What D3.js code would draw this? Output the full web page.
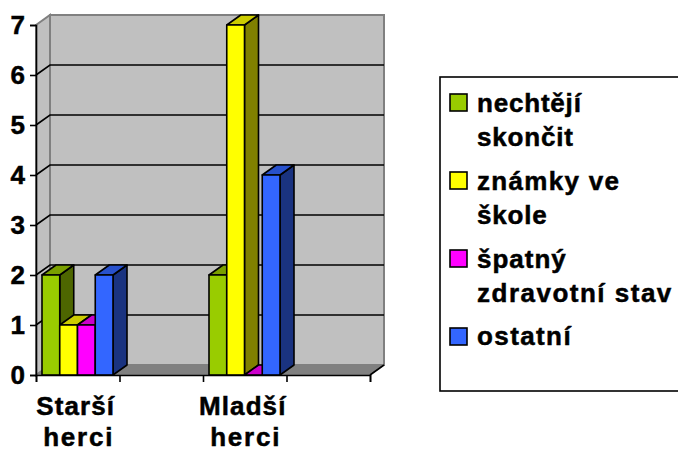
<!DOCTYPE html>
<html>
<head>
<meta charset="utf-8">
<script src="https://cdn.jsdelivr.net/npm/d3@7"></script>
<style>
  html, body { margin: 0; padding: 0; background: #fff; }
  svg { display: block; }
  text { font-family: "Liberation Sans", Arial, sans-serif; font-weight: bold; fill: #000; stroke: #000; stroke-width: 0.5px; }
</style>
</head>
<body>
<div id="chart"></div>
<script>
// two of the four categories are empty in the original chart
const categories = ['Starší herci', 'blank1', 'Mladší herci', 'blank2'];
const categoryLines = {'Starší herci': ['Starší', 'herci'], 'Mladší herci': ['Mladší', 'herci']};
const seriesNames = ['nechtějí skončit', 'známky ve škole', 'špatný zdravotní stav', 'ostatní'];
const legendLines = [['nechtějí', 'skončit'], ['známky ve', 'škole'], ['špatný', 'zdravotní stav'], ['ostatní']];
const nechteji = [2, null, 2, null];
const znamky = [1, null, 7, null];
const spatny = [1, null, 0, null];
const ostatni = [2, null, 4, null];
const yTicks = [0, 1, 2, 3, 4, 5, 6, 7];

const frontColors = ['#99cc00', '#ffff00', '#ff00ff', '#3366ff'];
const topColors = ['#7a9f00', '#cccc00', '#cc00cc', '#2851cc'];
const sideColors = ['#4d6600', '#808000', '#800080', '#1a3380'];

const seriesValues = [nechteji, znamky, spatny, ostatni];

const chartWidth = 678, chartHeight = 451;
const depthX = 14, depthY = 10;
const plotLeft = 36, plotRight = 370, plotTop = 25, plotBottom = 375;

const svg = d3.select('#chart').append('svg')
    .attr('width', chartWidth)
    .attr('height', chartHeight);

const xScale = d3.scaleBand().domain(categories).range([plotLeft, plotRight]);
const yScale = d3.scaleLinear().domain([0, 7]).range([plotBottom, plotTop]);
const barScale = d3.scaleBand().domain(seriesNames).range([6, 77]);

// walls and floor
const poly = pts => 'M' + pts.map(p => p.join(',')).join('L') + 'Z';
svg.append('path')
    .attr('d', poly([[plotLeft, plotTop], [plotLeft + depthX, plotTop - depthY], [plotLeft + depthX, plotBottom - depthY], [plotLeft, plotBottom]]))
    .attr('fill', '#c0c0c0').attr('stroke', '#808080').attr('stroke-width', 2);
svg.append('path')
    .attr('d', poly([[plotLeft + depthX, plotTop - depthY], [plotRight + depthX, plotTop - depthY], [plotRight + depthX, plotBottom - depthY], [plotLeft + depthX, plotBottom - depthY]]))
    .attr('fill', '#c0c0c0').attr('stroke', '#808080').attr('stroke-width', 2);
svg.append('path')
    .attr('d', poly([[plotLeft, plotBottom], [plotLeft + depthX, plotBottom - depthY], [plotRight + depthX, plotBottom - depthY], [plotRight, plotBottom]]))
    .attr('fill', '#808080').attr('stroke', '#808080');

// gridlines
yTicks.filter(d => d > 0 && d < 7).forEach(d => {
  svg.append('path')
      .attr('d', `M${plotLeft},${yScale(d)}L${plotLeft + depthX},${yScale(d) - depthY}H${plotRight + depthX}`)
      .attr('fill', 'none')
      .attr('stroke', '#000')
      .attr('stroke-width', 1.6);
});
svg.append('line')
    .attr('x1', plotRight).attr('y1', plotBottom)
    .attr('x2', plotRight + depthX).attr('y2', plotBottom - depthY)
    .attr('stroke', '#000').attr('stroke-width', 1.6);

// bars, drawn series by series so later bars cover the sides of earlier ones
categories.forEach((cat, i) => {
  seriesNames.forEach((name, s) => {
    const v = seriesValues[s][i];
    if (v === null) return;
    const x0 = xScale(cat) + barScale(name);
    const x1 = x0 + barScale.bandwidth();
    const y = yScale(v);
    const g = svg.append('g')
        .attr('stroke', '#000')
        .attr('stroke-width', 1.6)
        .attr('stroke-linejoin', 'round');
    g.append('path')
        .attr('d', poly([[x1, y], [x1 + depthX, y - depthY], [x1 + depthX, plotBottom - depthY], [x1, plotBottom]]))
        .attr('fill', sideColors[s]);
    g.append('path')
        .attr('d', poly([[x0, y], [x0 + depthX, y - depthY], [x1 + depthX, y - depthY], [x1, y]]))
        .attr('fill', topColors[s]);
    g.append('rect')
        .attr('x', x0).attr('y', y)
        .attr('width', x1 - x0).attr('height', plotBottom - y)
        .attr('fill', frontColors[s]);
  });
});

// axes
const yAxis = d3.axisLeft(yScale).tickValues(yTicks).tickSize(6).tickPadding(5).tickFormat(d3.format('d'));
const yG = svg.append('g').attr('transform', `translate(${plotLeft},0)`).call(yAxis);
yG.selectAll('text').style('font-size', '26px');

const xTickValues = [plotLeft, ...categories.map(c => xScale(c) + xScale.bandwidth())];
const xAxisScale = d3.scaleLinear().domain([plotLeft, plotRight]).range([plotLeft, plotRight]);
const xAxis = d3.axisBottom(xAxisScale).tickValues(xTickValues).tickSize(7).tickFormat('');
svg.append('g').attr('transform', `translate(0,${plotBottom})`).call(xAxis);
svg.selectAll('.domain, .tick line').attr('stroke', '#000').attr('stroke-width', 1.6);

// category labels, the two lines are not quite centred on each other in the original
const labelBaselines = [415, 446];
const labelOffsets = [-2, 1];
const labelSpacing = [1.1, 1.8];
categories.filter(c => categoryLines[c]).forEach(c => {
  categoryLines[c].forEach((line, i) => {
    svg.append('text')
        .attr('x', xScale(c) + xScale.bandwidth() / 2 + labelOffsets[i])
        .attr('y', labelBaselines[i])
        .attr('text-anchor', 'middle')
        .style('font-size', '26px')
        .style('letter-spacing', labelSpacing[i] + 'px')
        .text(line);
  });
});

// legend
svg.append('rect')
    .attr('x', 440).attr('y', 77)
    .attr('width', 250).attr('height', 314)
    .attr('fill', '#fff').attr('stroke', '#000').attr('stroke-width', 1.6);

const legendSwatchY = [94, 172, 250, 328];
const legendBaselines = [[112, 146], [190, 224], [268, 302], [345]];
const legendSpacing = [[0.8, 0.8], [1.3, 0.8], [1, 1.5], [1.4]];
legendLines.forEach((lines, s) => {
  svg.append('rect')
      .attr('x', 450).attr('y', legendSwatchY[s])
      .attr('width', 17).attr('height', 17)
      .attr('fill', frontColors[s])
      .attr('stroke', '#000').attr('stroke-width', 1.6);
  lines.forEach((line, i) => {
    svg.append('text')
        .attr('x', 477)
        .attr('y', legendBaselines[s][i])
        .style('font-size', '26px')
        .style('letter-spacing', legendSpacing[s][i] + 'px')
        .text(line);
  });
});
</script>
</body>
</html>
